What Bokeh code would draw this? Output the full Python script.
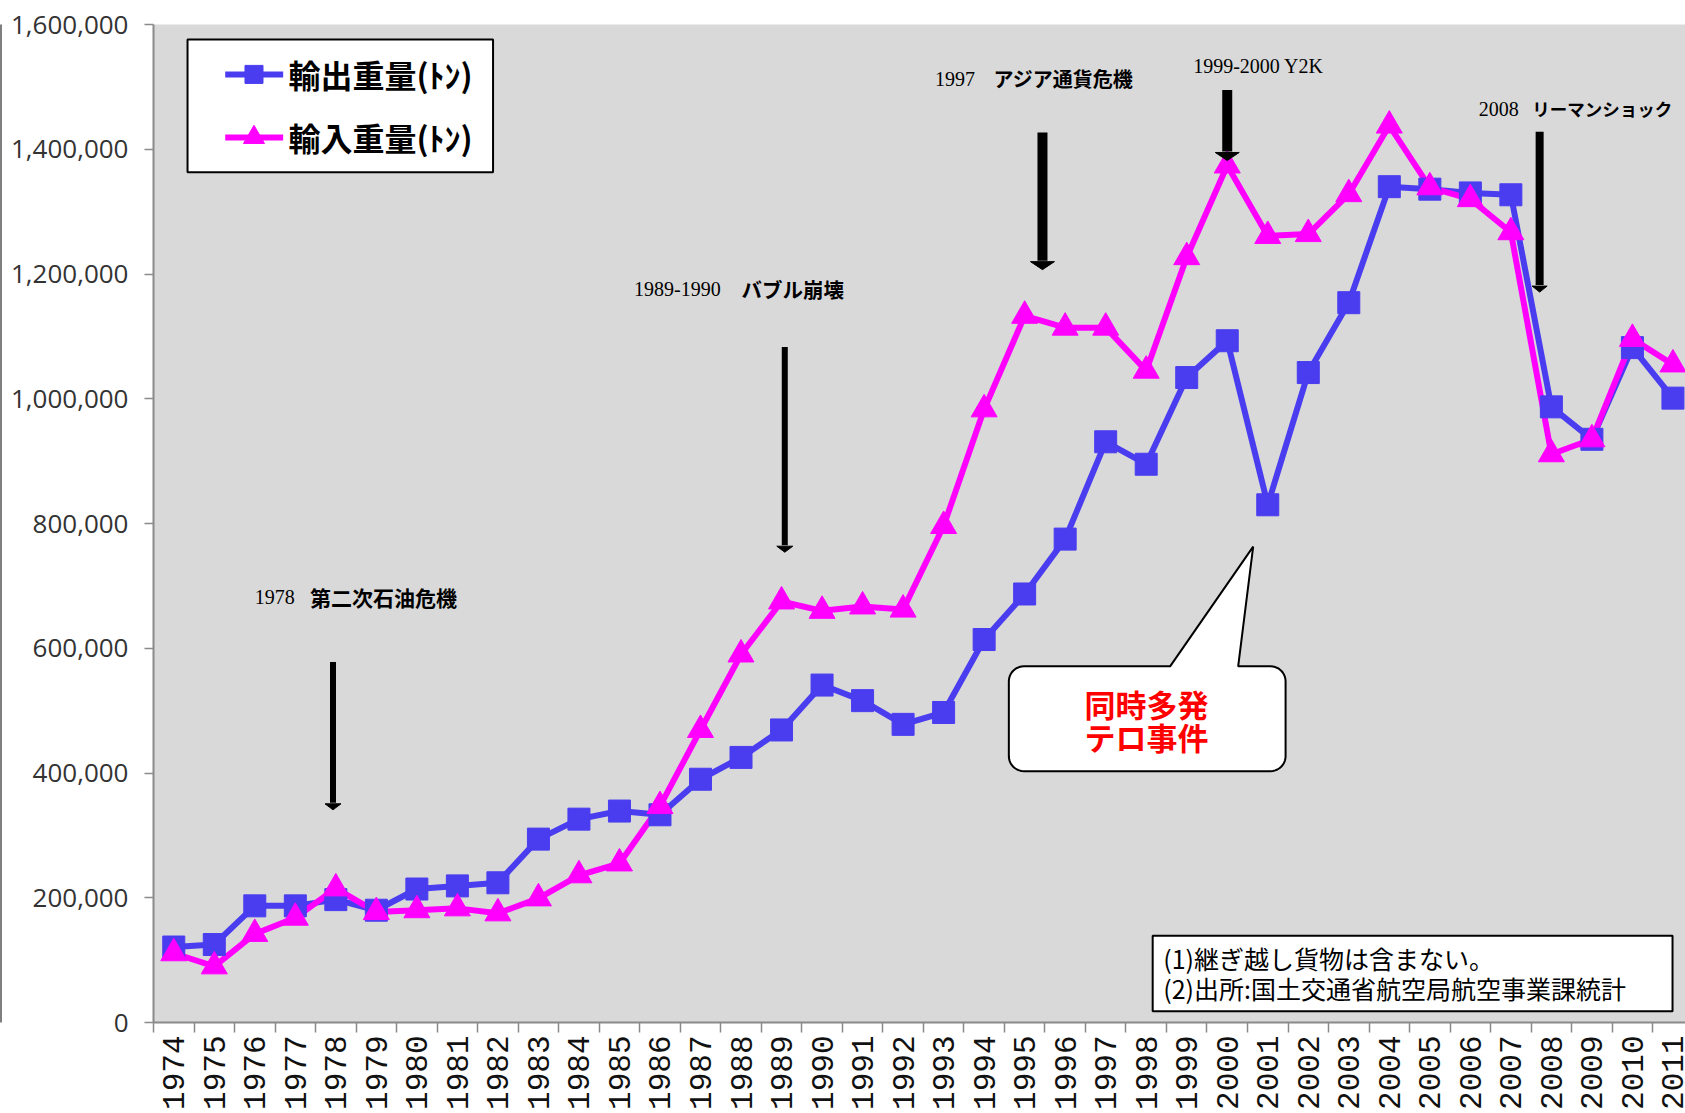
import math

from bokeh.core.properties import value
from bokeh.embed import file_html
from bokeh.models import FixedTicker, LinearAxis, NumeralTickFormatter
from bokeh.plotting import figure
from bokeh.resources import INLINE

# ---- data: international air cargo volume (tonnes) ----
years = list(range(1974, 2012))
export_tonnes = [
    121000, 125000, 187000, 187000, 197000, 180000, 214000, 219000, 224000, 294000,
    326000, 339000, 333000, 390000, 425000, 469000, 541000, 516000, 478000, 497000,
    614000, 687000, 775000, 931000, 895000, 1034000, 1093000, 830000, 1042000, 1154000,
    1340000, 1336000, 1330000, 1327000, 987000, 935000, 1082000, 1001000,
]
import_tonnes = [
    111000, 90000, 142000, 168000, 215000, 177000, 180000, 183000, 175000, 199000,
    236000, 255000, 347000, 469000, 590000, 675000, 660000, 667000, 662000, 796000,
    983000, 1133000, 1114000, 1114000, 1045000, 1227000, 1374000, 1261000, 1264000, 1328000,
    1438000, 1339000, 1320000, 1267000, 911000, 935000, 1096000, 1055000,
]
series_names = ["輸出重量(ﾄﾝ)", "輸入重量(ﾄﾝ)"]
y_ticks = [0, 200000, 400000, 600000, 800000, 1000000, 1200000, 1400000, 1600000]

# event labels: year part, name part
event_years = ["1978", "1989-1990", "1997", "1999-2000 Y2K", "2008"]
event_names = ["第二次石油危機", "バブル崩壊", "アジア通貨危機", "", "リーマンショック"]
event_name_size = ["21px", "20.5px", "20px", "", "17.5px"]
event_label_x = [1976.0, 1985.36, 1992.79, 1999.16, 2006.21]
event_name_x = [1977.36, 1988.01, 1994.23, None, 2007.53]
event_label_y = [682000, 1176000, 1513000, 1533000, 1465000]
# arrows: x, top, tip, shaft width px, head width px, head height px
arrow_x = [1977.93, 1989.08, 1995.44, 2000.0, 2007.71]
arrow_top = [578000, 1083000, 1427000, 1495000, 1428000]
arrow_tip = [341000, 754000, 1207000, 1382000, 1171000]
arrow_shaft = [6, 6, 10, 10, 8]
arrow_head_w = [16, 16, 24, 24, 15]
arrow_head_h = [6, 6, 8, 8, 6]

notes = ["(1)継ぎ越し貨物は含まない。", "(2)出所:国土交通省航空局航空事業課統計"]
callout_text = ["同時多発", "テロ事件"]

# ---- canvas geometry ----
W, H = 1685, 1113
B_LEFT, B_TOP, B_BOTTOM = 152, 24, 91
X0, X1 = 1973.5, 2011.31
Y0, Y1 = 0, 1600000
PX_PER_YEAR = (W - B_LEFT) / (X1 - X0)
UNITS_PER_PX = (Y1 - Y0) / (H - B_TOP - B_BOTTOM)

BLUE = "#4a3df0"
PINK = "#ff00ff"
AXIS_GREY = "#8a8a8a"
JP = value("Noto Sans CJK JP")
SERIF = value("Liberation Serif")

p = figure(
    width=W, height=H, x_range=(X0, X1), y_range=(Y0, Y1),
    output_backend="svg", toolbar_location=None,
    min_border_left=B_LEFT, min_border_right=0,
    min_border_top=B_TOP, min_border_bottom=B_BOTTOM,
    background_fill_color="#d9d9d9", border_fill_color="white",
)
p.outline_line_color = None
p.xgrid.visible = False
p.ygrid.visible = False

# y axis
p.yaxis.ticker = FixedTicker(ticks=y_ticks)
p.yaxis.formatter = NumeralTickFormatter(format="0,0")
p.yaxis.minor_tick_line_color = None
p.yaxis.major_tick_in = 0
p.yaxis.major_tick_out = 9
p.yaxis.major_label_standoff = 16
p.yaxis.major_label_text_font = "Open Sans"
p.yaxis.major_label_text_font_size = "26px"
p.yaxis.major_label_text_color = "#333333"
p.yaxis.axis_line_color = AXIS_GREY
p.yaxis.axis_line_width = 2
p.yaxis.major_tick_line_color = AXIS_GREY
p.yaxis.major_tick_line_width = 1.5
# a blank axis title keeps a few pixels of room left of the tick labels
p.yaxis.axis_label = " "
p.yaxis.axis_label_text_font_size = "1px"
p.yaxis.axis_label_standoff = 3

# bare outer axis: only its line shows, as the chart's left border
border_axis = LinearAxis(ticker=FixedTicker(ticks=[]), axis_line_color="#7f7f7f",
                         axis_line_width=3, major_tick_line_color=None,
                         minor_tick_line_color=None, major_label_standoff=0)
p.add_layout(border_axis, "left")

# x axis: a label per year, tick marks between the categories
p.xaxis.ticker = FixedTicker(ticks=years, minor_ticks=[y - 0.5 for y in years] + [years[-1] + 0.5])
p.xaxis.major_tick_in = 0
p.xaxis.major_tick_out = 0
p.xaxis.minor_tick_in = 0
p.xaxis.minor_tick_out = 10
p.xaxis.minor_tick_line_color = AXIS_GREY
p.xaxis.minor_tick_line_width = 1.5
p.xaxis.major_label_standoff = 3
p.xaxis.major_label_orientation = math.pi / 2
p.xaxis.major_label_text_font = "Liberation Mono"
p.xaxis.major_label_text_font_size = "31px"
p.xaxis.major_label_text_color = "#111111"
p.xaxis.axis_line_color = AXIS_GREY
p.xaxis.axis_line_width = 2

# ---- series ----
p.line(years, export_tonnes, line_color=BLUE, line_width=6)
p.line(years, import_tonnes, line_color=PINK, line_width=6)
p.scatter(years, export_tonnes, marker="square", size=22, fill_color=BLUE, line_color=BLUE)
p.scatter(years, import_tonnes, marker="triangle", size=26, fill_color=PINK, line_color=PINK)

# ---- legend box ----
leg_l, leg_r, leg_t, leg_b = 1974.34, 1981.88, 1576000, 1363000
leg_rows = [1520000, 1419000]
p.quad(left=[leg_l], right=[leg_r], top=[leg_t], bottom=[leg_b],
       fill_color="white", line_color="black", line_width=2)
for row_y, color, marker, msize, name in zip(
        leg_rows, [BLUE, PINK], ["square", "triangle"], [18, 21], series_names):
    p.line([1975.27, 1976.70], [row_y, row_y], line_color=color, line_width=6)
    p.scatter([1975.98], [row_y], marker=marker, size=msize, fill_color=color, line_color=color)
    p.text([1976.83], [row_y], text=[name], text_font=JP, text_font_style="bold",
           text_font_size="32px", text_baseline="middle", text_align="left", text_color="black")

# ---- event arrows and labels ----
for x, top, tip, sw, hw, hh in zip(arrow_x, arrow_top, arrow_tip,
                                   arrow_shaft, arrow_head_w, arrow_head_h):
    base = tip + hh * UNITS_PER_PX
    p.segment([x], [top], [x], [base + UNITS_PER_PX], line_color="black", line_width=sw)
    half = hw / 2 / PX_PER_YEAR
    p.patch([x - half, x + half, x], [base, base, tip], fill_color="black", line_color="black",
            line_width=1)

p.text(event_label_x, event_label_y, text=event_years, text_font=SERIF,
       text_font_size="20px", text_baseline="middle", text_align="left", text_color="black")
for nx, ny, name, fs in zip(event_name_x, event_label_y, event_names, event_name_size):
    if nx is None:
        continue
    p.text([nx], [ny], text=[name], text_font=JP, text_font_style="bold",
           text_font_size=fs, text_baseline="middle", text_align="left", text_color="black")

# ---- speech-bubble callout for 2001 ----
def bubble(l, r, t, b, rx, ry, base_l, base_r, tip_x, tip_y, n=10):
    xs, ys = [l + rx, base_l, tip_x, base_r, r - rx], [t, t, tip_y, t, t]
    corners = [(r - rx, t - ry, 90, 0), (r - rx, b + ry, 0, -90),
               (l + rx, b + ry, -90, -180), (l + rx, t - ry, 180, 90)]
    for cx, cy, a0, a1 in corners:
        for i in range(n + 1):
            a = math.radians(a0 + (a1 - a0) * i / n)
            xs.append(cx + rx * math.cos(a))
            ys.append(cy + ry * math.sin(a))
    return xs, ys

bx, by = bubble(1994.61, 2001.44, 571000, 403000, 15 / PX_PER_YEAR, 15 * UNITS_PER_PX,
                1998.59, 2000.27, 2000.64, 763000)
p.patch(bx, by, fill_color="white", line_color="black", line_width=2)
p.text([1998.01, 1998.01], [512000, 458000], text=callout_text, text_font=JP,
       text_font_style="bold", text_font_size="31px", text_baseline="middle",
       text_align="center", text_color="#ff0000")

# ---- notes box ----
p.quad(left=[1998.16], right=[2010.99], top=[139000], bottom=[18000],
       fill_color="white", line_color="black", line_width=2)
p.text([1998.42, 1998.42], [104000, 56000], text=notes, text_font=JP,
       text_font_size="25px", text_baseline="middle", text_align="left", text_color="black")

open("out.html", "w").write(file_html(p, INLINE))
